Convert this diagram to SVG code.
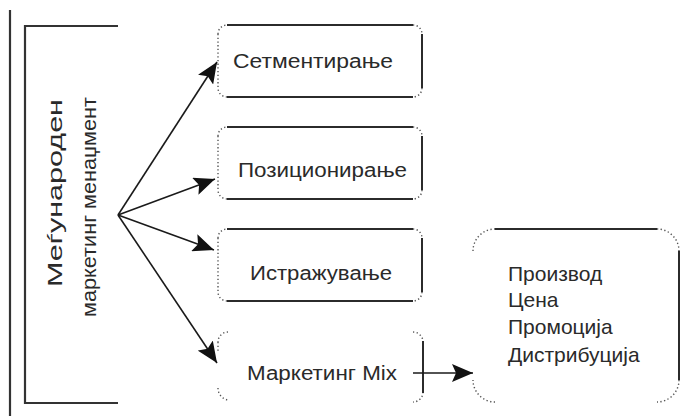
<svg xmlns="http://www.w3.org/2000/svg" width="685" height="416" viewBox="0 0 685 416">
  <defs>
    <marker id="head" markerUnits="userSpaceOnUse" markerWidth="22" markerHeight="18" refX="21" refY="9" orient="auto" viewBox="0 0 22 18">
      <path d="M0,0 L21,9 L0,18 L4,9 z" fill="#111"/>
    </marker>
    <style>
      .edge { fill: none; stroke: #2b2b2b; stroke-width: 2; }
      .dot { fill: none; stroke: #555; stroke-width: 1.4; stroke-dasharray: 1.3 2.4; }
      .frame { fill: none; stroke: #333; stroke-width: 2.2; }
      .lbl { font-family: "Liberation Sans", Arial, sans-serif; font-size: 20px; fill: #2a2a2a; }
      .item { font-family: "Liberation Sans", Arial, sans-serif; font-size: 21px; fill: #2a2a2a; }
      .wire { fill: none; stroke: #1a1a1a; stroke-width: 1.6; marker-end: url(#head); }
    </style>
  </defs>
  <rect width="685" height="416" fill="#ffffff"/>

  <!-- page margin rule and bracket -->
  <g id="frame">
    <path class="frame" d="M10,10 V416"/>
    <path class="frame" d="M118,26 H25 V403 H118"/>
  </g>

  <!-- title (vertical) -->
  <g id="title">
    <text class="lbl" transform="rotate(-90)" x="-287" y="62" style="font-size:21px" textLength="188" lengthAdjust="spacingAndGlyphs">Меѓународен</text>
    <text class="lbl" transform="rotate(-90)" x="-317" y="96" textLength="220" lengthAdjust="spacingAndGlyphs">маркетинг менаџмент</text>
  </g>

  <!-- box: segmentation -->
  <g id="segment">
    <path class="dot" d="M218,34 A9,9 0 0 1 227,25 M413,25 A9,9 0 0 1 422,34 M422,88 A9,9 0 0 1 413,97 M227,97 A9,9 0 0 1 218,88 M218,34 V88"/>
    <path class="edge" d="M227,25 H413 M422,34 V88 M227,97 H413"/>
    <text class="lbl" x="233" y="68" textLength="160" lengthAdjust="spacingAndGlyphs">Сетментирање</text>
  </g>

  <!-- box: positioning -->
  <g id="position">
    <path class="dot" d="M218,136 A9,9 0 0 1 227,127 M413,127 A9,9 0 0 1 422,136 M422,190 A9,9 0 0 1 413,199 M227,199 A9,9 0 0 1 218,190 M218,136 V190"/>
    <path class="edge" d="M227,127 H413 M422,136 V190 M227,199 H413"/>
    <text class="lbl" x="238" y="177" textLength="169" lengthAdjust="spacingAndGlyphs">Позиционирање</text>
  </g>

  <!-- box: research -->
  <g id="research">
    <path class="dot" d="M218,238 A9,9 0 0 1 227,229 M413,229 A9,9 0 0 1 422,238 M422,292 A9,9 0 0 1 413,301 M227,301 A9,9 0 0 1 218,292 M218,238 V292"/>
    <path class="edge" d="M227,229 H413 M422,238 V292 M227,301 H413"/>
    <text class="lbl" x="250" y="280" textLength="142" lengthAdjust="spacingAndGlyphs">Истражување</text>
  </g>

  <!-- box: marketing mix (bracket form) -->
  <g id="mix">
    <path class="dot" d="M228,332 A10,10 0 0 0 218,342 M218,342 V352 M218,388 A12,12 0 0 0 228,400 M413,332 A10,10 0 0 1 423,342 M423,392 A10,10 0 0 1 413,402"/>
    <path class="edge" d="M423,341 V393"/>
    <text class="lbl" x="247" y="380" textLength="150" lengthAdjust="spacingAndGlyphs">Маркетинг Mix</text>
  </g>

  <!-- box: the four Ps -->
  <g id="four-p">
    <path class="dot" d="M473,251 A22,22 0 0 1 495,229 M657,229 A22,22 0 0 1 679,251 M679,380 A22,22 0 0 1 657,402 M495,402 A22,22 0 0 1 473,380"/>
    <path class="edge" d="M495,229 H657 M679,251 V380"/>
    <text class="item" x="508" y="281">Производ</text>
    <text class="item" x="508" y="307">Цена</text>
    <text class="item" x="508" y="334">Промоција</text>
    <text class="item" x="508" y="362">Дистрибуција</text>
  </g>

  <!-- connectors -->
  <g id="connectors">
    <path class="wire" d="M118,215 L217,62" stroke-width="1.3"/>
    <path class="wire" d="M118,215 L215,179"/>
    <path class="wire" d="M118,215 L214,250"/>
    <path class="wire" d="M118,215 L217,363" stroke-width="1.3"/>
    <path class="wire" d="M413,373 L473,373"/>
  </g>
</svg>
